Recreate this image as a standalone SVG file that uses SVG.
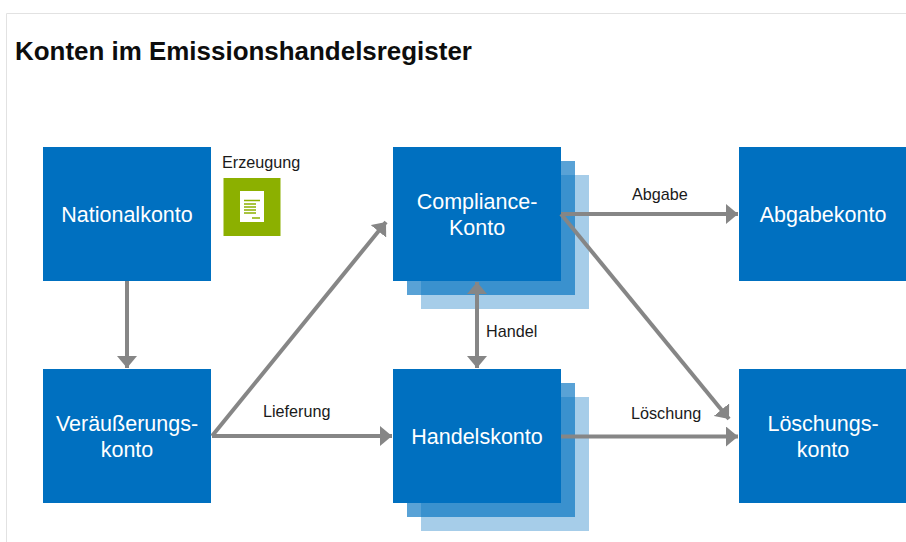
<svg xmlns="http://www.w3.org/2000/svg" width="906" height="542" viewBox="0 0 906 542">
<defs>
<marker id="ah" markerUnits="userSpaceOnUse" markerWidth="14" markerHeight="20" refX="12" refY="10" orient="auto-start-reverse" viewBox="0 0 14 20"><path d="M0 0L12 10L0 20Z" fill="#868686"/></marker>
</defs>
<style>
.b{fill:#0070c0}
.m{fill:#0070c0;opacity:.65}
.l{fill:#0070c0;opacity:.35}
text{font-family:"Liberation Sans",Arial,sans-serif}
.n{font-size:21.500px;fill:#fff;text-anchor:middle}
.s{font-size:16.200px;fill:#1a1a1a}
.c{fill:none;stroke:#868686;stroke-width:4}
</style>
<rect width="906" height="542" fill="#fff"/>
<path d="M906 13.500H6.500V542" fill="none" stroke="#e2e2e2" stroke-width="1"/>
<text id="title" x="15" y="60" font-size="25.950" font-weight="700" fill="#0d0d0d">Konten im Emissionshandelsregister</text>
<g id="node-nationalkonto"><rect class="b" x="43" y="147" width="168" height="134"/><text class="n" x="127" y="222">Nationalkonto</text></g>
<g id="node-veraeusserungskonto"><rect class="b" x="43" y="369" width="168" height="134"/><text class="n" x="127" y="431">Veräußerungs-</text><text class="n" x="127" y="457">konto</text></g>
<g id="node-compliance"><rect class="l" x="421" y="175" width="168" height="134"/><rect class="m" x="407" y="161" width="168" height="134"/><rect class="b" x="393" y="147" width="168" height="134"/><text class="n" x="477" y="209">Compliance-</text><text class="n" x="477" y="235">Konto</text></g>
<g id="node-handelskonto"><rect class="l" x="421" y="397" width="168" height="134"/><rect class="m" x="407" y="383" width="168" height="134"/><rect class="b" x="393" y="369" width="168" height="134"/><text class="n" x="477" y="444">Handelskonto</text></g>
<g id="node-abgabekonto"><rect class="b" x="739" y="147" width="168" height="134"/><text class="n" x="823" y="222">Abgabekonto</text></g>
<g id="node-loeschungskonto"><rect class="b" x="739" y="369" width="168" height="134"/><text class="n" x="823" y="431">Löschungs-</text><text class="n" x="823" y="457">konto</text></g>
<g id="node-erzeugung"><text class="s" x="222" y="168">Erzeugung</text><rect x="223.500" y="178" width="57" height="58" fill="#8cb000"/><rect x="240" y="191" width="24" height="31" fill="#fff"/><path d="M244 200.500H260M244 204H256M244 207H256M244 210H256M244 213H256M252 218H260" stroke="#8cb000" stroke-width="1.500" fill="none"/></g>
<g id="connectors">
<path class="c" d="M127 281V368" marker-end="url(#ah)"/>
<path class="c" d="M212 436L386 222" marker-end="url(#ah)"/>
<path class="c" d="M212 436H392" marker-end="url(#ah)"/>
<path class="c" d="M477 282V368" marker-start="url(#ah)" marker-end="url(#ah)"/>
<path class="c" d="M561 214H738" marker-end="url(#ah)"/>
<path class="c" d="M561 214L729 419" marker-end="url(#ah)"/>
<path class="c" d="M561 436.500H738" marker-end="url(#ah)"/>
</g>
<g id="labels">
<text class="s" x="263" y="417">Lieferung</text>
<text class="s" x="486" y="337">Handel</text>
<text class="s" x="632" y="200">Abgabe</text>
<text class="s" x="631" y="419">Löschung</text>
</g>
</svg>
